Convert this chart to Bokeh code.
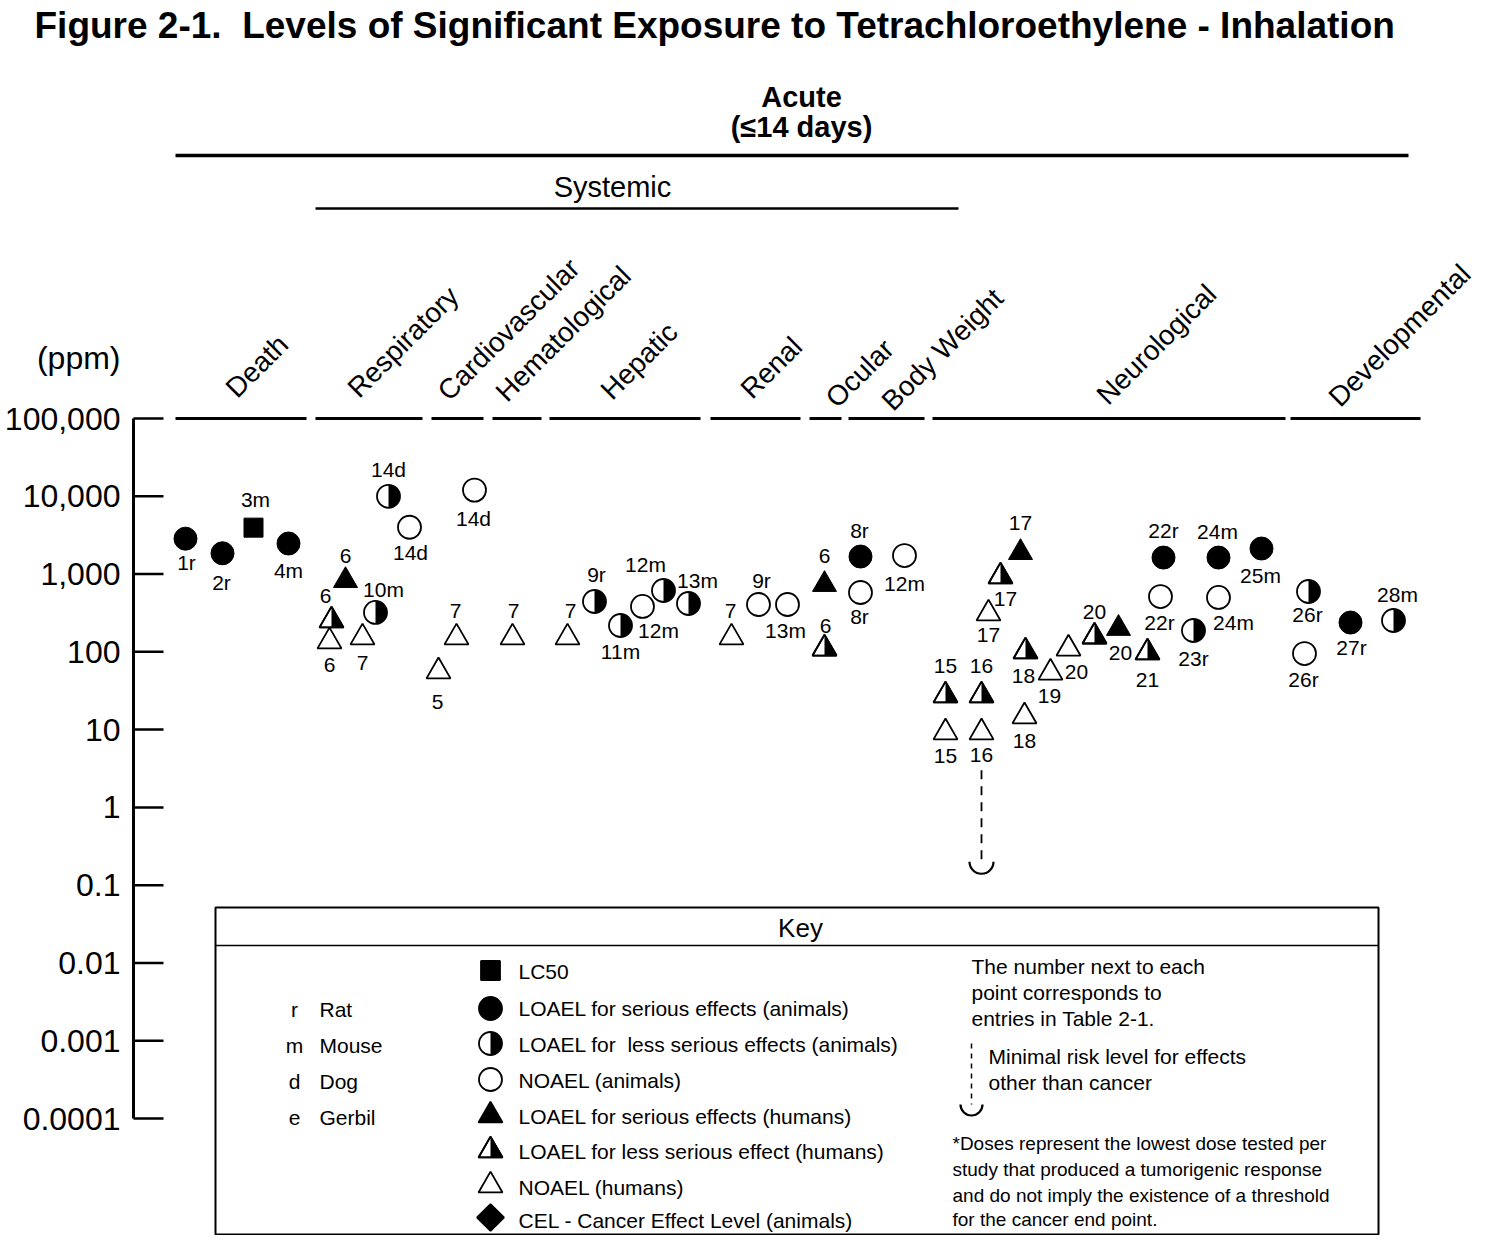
import math
from bokeh.plotting import figure
from bokeh.models import Range1d, LinearScale, FixedTicker
from bokeh.core.properties import value
from bokeh.embed import file_html
from bokeh.resources import INLINE

# ---------------- data ----------------
categories = ["Death", "Respiratory", "Cardiovascular", "Hematological", "Hepatic",
              "Renal", "Ocular", "Body Weight", "Neurological", "Developmental"]

point_category = (["Death"] * 4 + ["Respiratory"] * 7 + ["Cardiovascular"] * 3 +
                  ["Hematological"] * 1 + ["Hepatic"] * 6 + ["Renal"] * 3 +
                  ["Ocular"] * 2 + ["Body Weight"] * 3 + ["Neurological"] * 20 +
                  ["Developmental"] * 4)
point_label = ["1r", "2r", "3m", "4m",
               "6", "6", "6", "10m", "7", "14d", "14d",
               "5", "7", "14d",
               "7",
               "7", "9r", "11m", "12m", "12m", "13m",
               "7", "9r", "13m",
               "6", "6",
               "8r", "8r", "12m",
               "15", "15", "16", "16", "17", "17", "17", "18", "18", "19", "20", "20", "20",
               "21", "22r", "22r", "23r", "24m", "24m", "25m",
               "26r", "26r", "27r", "28m"]
# sq LC50, fc LOAEL serious animals, hc LOAEL less serious animals, oc NOAEL animals,
# ft LOAEL serious humans, ht LOAEL less serious humans, ot NOAEL humans
point_type = ["fc", "fc", "sq", "fc",
              "ft", "ht", "ot", "hc", "ot", "hc", "oc",
              "ot", "ot", "oc",
              "ot",
              "ot", "hc", "hc", "oc", "hc", "hc",
              "ot", "oc", "oc",
              "ft", "ht",
              "fc", "oc", "oc",
              "ht", "ot", "ht", "ot", "ot", "ht", "ft", "ht", "ot", "ot", "ot", "ht", "ft",
              "ht", "fc", "oc", "hc", "fc", "oc", "fc",
              "hc", "oc", "fc", "hc"]
point_ppm = [2850, 1850, 3950, 2470,
             825, 253, 136, 321, 153, 10000, 4000,
             56, 153, 12000,
             153,
             153, 444, 218, 383, 615, 418,
             153, 406, 406,
             734, 110,
             1680, 579, 1730,
             27.5, 9.2, 27.5, 9.2, 311, 930, 1890, 101, 14.8, 54, 110, 157, 200,
             98, 1630, 514, 188, 1630, 500, 2130,
             597, 95, 238, 253]

mrl_ppm = 0.2          # acute inhalation MRL (entry 16)
mrl_line_top_ppm = 3.0

tick_values = [1e-4, 1e-3, 1e-2, 1e-1, 1, 10, 100, 1000, 10000, 100000]
tick_labels = ["0.0001", "0.001", "0.01", "0.1", "1", "10", "100", "1,000", "10,000", "100,000"]
unit_label = "(ppm)"

key_species_code = ["r", "m", "d", "e"]
key_species_name = ["Rat", "Mouse", "Dog", "Gerbil"]
key_symbol_type = ["sq", "fc", "hc", "oc", "ft", "ht", "ot", "di"]
key_symbol_text = ["LC50",
                   "LOAEL for serious effects (animals)",
                   "LOAEL for\u00a0 less serious effects (animals)",
                   "NOAEL (animals)",
                   "LOAEL for serious effects (humans)",
                   "LOAEL for less serious effect (humans)",
                   "NOAEL (humans)",
                   "CEL - Cancer Effect Level (animals)"]
key_note_lines = ["The number next to each", "point corresponds to", "entries in Table 2-1."]
key_mrl_lines = ["Minimal risk level for effects", "other than cancer"]
key_foot_lines = ["*Doses represent the lowest dose tested per",
                  "study that produced a tumorigenic response",
                  "and do not imply the existence of a threshold",
                  "for the cancer end point."]

# ---------------- layout (pixel positions on the page) ----------------
point_x = [185, 222, 253, 288,
           345, 331, 329, 375, 362, 388, 409,
           438, 456, 474,
           512,
           567, 594, 620, 642, 663, 688,
           731, 758, 787,
           824, 824,
           860, 860, 904,
           945, 945, 981, 981, 988, 1000, 1020, 1025, 1024, 1050, 1068, 1094, 1118,
           1147, 1163, 1160, 1193, 1218, 1218, 1261,
           1308, 1304, 1350, 1393]
label_dx = [1, -1, 2, 0,
            0, -6, 0, 8, 0, 0, 1,
            -1, -1, -1,
            1,
            3, 2, 0, 16, -18, 9,
            -1, 3, -2,
            0, 1,
            -1, -1, 0,
            0, 0, 0, 0, 0, 5, 0, -2, 0, -1, 8, 0, 2,
            0, 0, -1, 0, -1, 15, -1,
            -1, -1, 1, 4]
label_dy = [24, 29, -28, 27,
            -25, -24, 24, -23, 26, -27, 25,
            31, -26, 28,
            -26,
            -26, -27, 26, 24, -26, -23,
            -26, -24, 26,
            -29, -23,
            -26, 24, 28,
            -29, 24, -29, 23, 21, 22, -30, 25, 25, 23, 23, -25, 25,
            27, -27, 26, 28, -26, 25, 27,
            23, 26, 25, -26]
mrl_x = 981

cat_label_x = [230, 352, 442, 500, 605, 745, 830, 886, 1101, 1333]
cat_label_y = [392, 392, 395, 396, 394, 393, 402, 405, 399, 401]
cat_seg_x0 = [175, 315, 431, 492, 549, 710, 809, 848, 932, 1290]
cat_seg_x1 = [306, 422, 483, 541, 700, 800, 841, 924, 1285, 1420]

W, H = 1479, 1235
LEFT = 131            # frame left edge (axis panel width)
TOP = 46              # title panel height
AXIS_X, TICK_LEN = 133, 30
Y_TOP_TICK, Y_BOT_TICK = 418, 1118     # page y of 1e5 and 1e-4
FONT = "Liberation Sans"

ppd = (Y_BOT_TICK - Y_TOP_TICK) / (math.log10(tick_values[-1]) - math.log10(tick_values[0]))
y_hi = tick_values[-1] * 10 ** ((Y_TOP_TICK - TOP) / ppd)
y_lo = tick_values[0] / 10 ** ((H - Y_BOT_TICK) / ppd)
unit_y = 357
unit_value = tick_values[-1] * 10 ** ((Y_TOP_TICK - unit_y) / ppd)

p = figure(width=W, height=H, output_backend="svg", toolbar_location=None,
           x_range=Range1d(LEFT, W), y_range=Range1d(y_lo, y_hi),
           y_axis_type="log", x_axis_type=None,
           min_border=0, min_border_left=LEFT, min_border_top=TOP)
p.extra_y_ranges = {"px": Range1d(start=H, end=TOP)}
p.extra_y_scales = {"px": LinearScale()}
p.outline_line_color = None
p.ygrid.visible = False
p.background_fill_color = "white"
p.border_fill_color = "white"

# title
p.title.text = "Figure 2-1.\u00a0 Levels of Significant Exposure to Tetrachloroethylene - Inhalation"
p.title.align = "left"
p.title.offset = 34 - LEFT
p.title.text_font = FONT
p.title.text_font_style = "bold"
p.title.text_font_size = "37px"
p.title.vertical_align = "middle"
p.title.standoff = 0
p.title.text_color = "black"

# y axis: labels from the axis, line + ticks drawn on the same log scale
ax = p.yaxis[0]
ax.bounds = (tick_values[0], unit_value)
ax.ticker = FixedTicker(ticks=tick_values + [unit_value], minor_ticks=[])
overrides = {v: t for v, t in zip(tick_values, tick_labels)}
overrides[unit_value] = unit_label
ax.major_label_overrides = overrides
ax.axis_line_color = None
ax.major_tick_line_color = None
ax.major_tick_in = 0
ax.major_tick_out = 0
ax.minor_tick_in = 0
ax.minor_tick_out = 0
ax.major_label_standoff = 11
ax.major_label_text_font = FONT
ax.major_label_text_font_size = "32px"
ax.major_label_text_color = "black"

p.segment(x0=[AXIS_X], y0=[tick_values[0]], x1=[AXIS_X], y1=[tick_values[-1]],
          line_width=3, line_color="black")
p.segment(x0=[AXIS_X] * len(tick_values), y0=tick_values,
          x1=[AXIS_X + TICK_LEN] * len(tick_values), y1=tick_values,
          line_width=2.5, line_color="black")

# ---------------- header ----------------
p.text(x=[801, 801], y=[96, 126], text=["Acute", "(\u226414 days)"], y_range_name="px",
       text_font=value(FONT), text_font_style="bold", text_font_size="29px",
       text_align="center", text_baseline="middle", text_color="black")
p.segment(x0=[175], y0=[155], x1=[1408], y1=[155], y_range_name="px", line_width=3.5, line_color="black")
p.text(x=[612], y=[186], text=["Systemic"], y_range_name="px", text_font=value(FONT),
       text_font_size="29px", text_align="center", text_baseline="middle", text_color="black")
p.segment(x0=[315], y0=[208], x1=[958], y1=[208], y_range_name="px", line_width=2.5, line_color="black")

p.text(x=cat_label_x, y=cat_label_y, text=categories, y_range_name="px", angle=math.pi / 4,
       text_font=value(FONT), text_font_size="28px", text_align="left", text_baseline="alphabetic",
       text_color="black")
p.segment(x0=cat_seg_x0, y0=[tick_values[-1]] * len(cat_seg_x0), x1=cat_seg_x1,
          y1=[tick_values[-1]] * len(cat_seg_x0), line_width=3, line_color="black")

# ---------------- points ----------------
def sel(kind):
    idx = [i for i, t in enumerate(point_type) if t == kind]
    return [point_x[i] for i in idx], [point_ppm[i] for i in idx]

CS, TS, SS = 23, 24, 19     # circle, triangle, square marker sizes
LW = 1.8

xs, ys = sel("sq")
p.scatter(xs, ys, marker="square", size=SS, fill_color="black", line_color="black")
xs, ys = sel("fc")
p.scatter(xs, ys, marker="circle", size=CS, fill_color="black", line_color="black")
xs, ys = sel("oc")
p.scatter(xs, ys, marker="circle", size=CS, fill_color="white", line_color="black", line_width=LW)
xs, ys = sel("hc")
p.scatter(xs, ys, marker="circle", size=CS, fill_color="white", line_color="black", line_width=LW)
p.wedge(xs, ys, radius=CS / 2, radius_units="screen", start_angle=-math.pi / 2, end_angle=math.pi / 2,
        fill_color="black", line_color=None)
xs, ys = sel("ft")
p.scatter(xs, ys, marker="triangle", size=TS, fill_color="black", line_color="black")
xs, ys = sel("ot")
p.scatter(xs, ys, marker="triangle", size=TS, fill_color="white", line_color="black", line_width=LW)
xs, ys = sel("ht")
p.scatter(xs, ys, marker="triangle", size=TS, fill_color="white", line_color="black", line_width=LW)
up = 10 ** ((TS / 2 * math.sqrt(3) * 2 / 3) / ppd)
dn = 10 ** (-(TS / 2 * math.sqrt(3) / 3) / ppd)
p.patches(xs=[[x, x + TS / 2, x] for x in xs],
          ys=[[y * up, y * dn, y * dn] for y in ys], fill_color="black", line_color=None)
p.scatter(xs, ys, marker="triangle", size=TS, fill_color=None, line_color="black", line_width=LW)

p.text(x=point_x, y=point_ppm, text=point_label, x_offset=label_dx, y_offset=label_dy,
       text_font=value(FONT), text_font_size="21px", text_align="center", text_baseline="middle",
       text_color="black")

# MRL arrow
p.segment(x0=[mrl_x], y0=[mrl_line_top_ppm], x1=[mrl_x], y1=[mrl_ppm], line_dash="9 7",
          line_width=1.8, line_color="black")
p.arc(x=[mrl_x], y=[mrl_ppm], radius=12, radius_units="screen", start_angle=math.pi,
      end_angle=2 * math.pi, line_width=2.2, line_color="black")

# ---------------- key ----------------
p.quad(left=[215], right=[1378], top=[907], bottom=[1234], y_range_name="px",
       fill_color="white", line_color="black", line_width=2)
p.segment(x0=[215], y0=[945], x1=[1378], y1=[945], y_range_name="px", line_width=1.5, line_color="black")
p.text(x=[800], y=[927], text=["Key"], y_range_name="px", text_font=value(FONT), text_font_size="26px",
       text_align="center", text_baseline="middle", text_color="black")

KF = "21px"
sp_y = [1009, 1045, 1081, 1117]
p.text(x=[294] * 4, y=sp_y, text=key_species_code, y_range_name="px", text_font=value(FONT),
       text_font_size=KF, text_align="center", text_baseline="middle", text_color="black")
p.text(x=[319] * 4, y=sp_y, text=key_species_name, y_range_name="px", text_font=value(FONT),
       text_font_size=KF, text_align="left", text_baseline="middle", text_color="black")

ks_y = [970, 1008, 1043, 1079, 1115, 1150, 1185, 1217]
kt_y = [971, 1008, 1044, 1080, 1116, 1151, 1187, 1220]
KX = 490
style = {"sq": dict(marker="square", size=SS, fill_color="black"),
         "fc": dict(marker="circle", size=CS, fill_color="black"),
         "hc": dict(marker="circle", size=CS, fill_color="white"),
         "oc": dict(marker="circle", size=CS, fill_color="white"),
         "ft": dict(marker="triangle", size=TS, fill_color="black"),
         "ht": dict(marker="triangle", size=TS, fill_color="white"),
         "ot": dict(marker="triangle", size=TS, fill_color="white"),
         "di": dict(marker="square", size=19, fill_color="black", angle=math.pi / 4)}
for t, yy in zip(key_symbol_type, ks_y):
    p.scatter([KX], [yy], y_range_name="px", line_color="black", line_width=LW, **style[t])
    if t == "hc":
        p.wedge([KX], [yy], y_range_name="px", radius=CS / 2, radius_units="screen",
                start_angle=-math.pi / 2, end_angle=math.pi / 2, fill_color="black", line_color=None)
    if t == "ht":
        h = TS / 2 * math.sqrt(3)
        p.patches(xs=[[KX, KX + TS / 2, KX]], ys=[[yy - h * 2 / 3, yy + h / 3, yy + h / 3]],
                  y_range_name="px", fill_color="black", line_color=None)
        p.scatter([KX], [yy], y_range_name="px", marker="triangle", size=TS, fill_color=None,
                  line_color="black", line_width=LW)
p.text(x=[518] * len(key_symbol_text), y=kt_y, text=key_symbol_text, y_range_name="px",
       text_font=value(FONT), text_font_size=KF, text_align="left", text_baseline="middle",
       text_color="black")

p.text(x=[971] * 3, y=[966, 992, 1018], text=key_note_lines, y_range_name="px", text_font=value(FONT),
       text_font_size=KF, text_align="left", text_baseline="middle", text_color="black")
p.segment(x0=[971], y0=[1043], x1=[971], y1=[1104], y_range_name="px", line_dash="5 5",
          line_width=1.5, line_color="black")
p.arc(x=[971], y=[1104], y_range_name="px", radius=11, radius_units="screen", start_angle=math.pi,
      end_angle=2 * math.pi, line_width=2.2, line_color="black")
p.text(x=[988] * 2, y=[1056, 1082], text=key_mrl_lines, y_range_name="px", text_font=value(FONT),
       text_font_size=KF, text_align="left", text_baseline="middle", text_color="black")
p.text(x=[952] * 4, y=[1143, 1169, 1195, 1219], text=key_foot_lines, y_range_name="px",
       text_font=value(FONT), text_font_size="19px", text_align="left", text_baseline="middle",
       text_color="black")

open("out.html", "w").write(file_html(p, INLINE))
